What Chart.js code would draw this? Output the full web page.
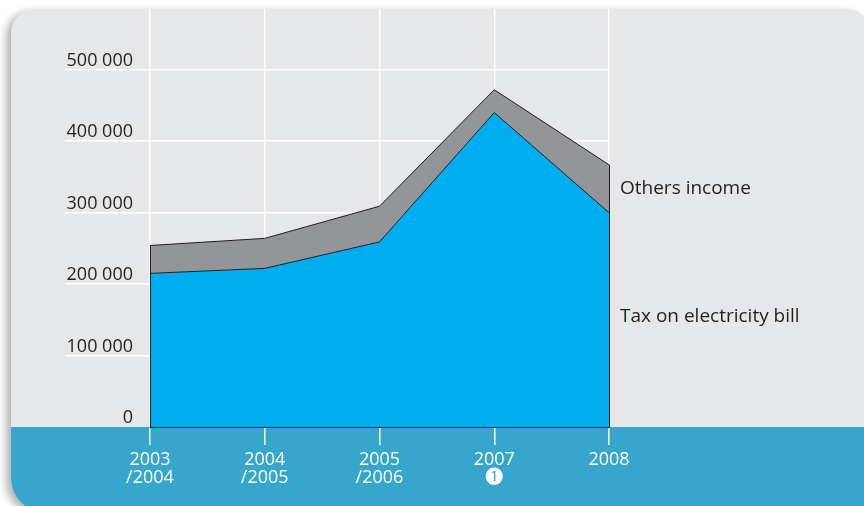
<!DOCTYPE html>
<html>
<head>
<meta charset="utf-8">
<script src="https://cdn.jsdelivr.net/npm/chart.js@4.4.1/dist/chart.umd.min.js"></script>
<style>
  html, body { margin: 0; padding: 0; background: #ffffff; }
  #wrap { width: 864px; height: 506px; }
</style>
</head>
<body>
<div id="wrap"><canvas id="incomeChart" width="864" height="506"></canvas></div>
<script>
// Categories (two-line labels) and stacked series
const years = [["2003", "/2004"], ["2004", "/2005"], ["2005", "/2006"], ["2007", "\u2776"], ["2008"]];
const taxOnBill = [215000, 222000, 259000, 440000, 300000];
const othersIncome = [39000, 42000, 50000, 32000, 67000];
const seriesNames = ["Tax on electricity bill", "Others income"];
const yTicks = [0, 100000, 200000, 300000, 400000, 500000];
const yMax = 585000; // top of the panel, vertical gridlines run up to it

const FONT = "'Open Sans', 'Noto Sans CJK JP', 'DejaVu Sans', sans-serif";
const INK = "#231f20";

function spaced(v) {
  return String(v).replace(/\B(?=(\d{3})+(?!\d))/g, " ");
}

// grey panel with a soft shadow and the blue band under the x axis
const panelPlugin = {
  id: "panel",
  beforeDraw(chart) {
    const ctx = chart.ctx;
    const area = chart.chartArea;
    const x0 = 11, y0 = 9, w = 860, h = 502;
    const radii = [24, 24, 0, 32];
    ctx.save();
    ctx.shadowColor = "rgba(0,0,0,0.30)";
    ctx.shadowBlur = 9;
    ctx.shadowOffsetX = -5;
    ctx.shadowOffsetY = 3;
    ctx.fillStyle = "#e6e7e8";
    ctx.beginPath();
    ctx.roundRect(x0, y0, w, h, radii);
    ctx.fill();
    ctx.restore();

    ctx.save();
    ctx.beginPath();
    ctx.roundRect(x0, y0, w, h, radii);
    ctx.clip();
    ctx.fillStyle = "#36a6cc";
    ctx.fillRect(x0, area.bottom, w, h);
    ctx.restore();
  },
  afterDatasetsDraw(chart) {
    // close the stacked area on both ends
    const ctx = chart.ctx;
    const xs = chart.scales.x, ys = chart.scales.y;
    const last = years.length - 1;
    ctx.save();
    ctx.strokeStyle = INK;
    ctx.lineWidth = 1;
    [0, last].forEach(function (i) {
      const px = Math.round(xs.getPixelForValue(i)) + 0.5;
      ctx.beginPath();
      ctx.moveTo(px, ys.getPixelForValue(0));
      ctx.lineTo(px, ys.getPixelForValue(taxOnBill[i] + othersIncome[i]));
      ctx.stroke();
    });
    // series names next to the last point
    const xr = xs.getPixelForValue(last) + 11;
    ctx.fillStyle = INK;
    ctx.font = "19px " + FONT;
    ctx.textAlign = "left";
    ctx.textBaseline = "middle";
    const yTop = ys.getPixelForValue(taxOnBill[last] + othersIncome[last]);
    const yMid = ys.getPixelForValue(taxOnBill[last]);
    const yZero = ys.getPixelForValue(0);
    ctx.fillText(seriesNames[1], xr, (yTop + yMid) / 2);
    ctx.fillText(seriesNames[0], xr, (yMid + yZero) / 2 - 3);
    ctx.restore();
  }
};

const ctx = document.getElementById("incomeChart").getContext("2d");
new Chart(ctx, {
  type: "line",
  data: {
    labels: years,
    datasets: [
      {
        label: seriesNames[0],
        data: taxOnBill,
        backgroundColor: "#00adee",
        borderColor: INK,
        borderWidth: 1,
        pointRadius: 0,
        tension: 0,
        fill: "origin",
      },
      {
        label: seriesNames[1],
        data: othersIncome,
        backgroundColor: "#939598",
        borderColor: INK,
        borderWidth: 1,
        pointRadius: 0,
        tension: 0,
        fill: "-1",
      },
    ],
  },
  options: {
    responsive: false,
    animation: false,
    devicePixelRatio: 1,
    layout: { padding: { top: 9, right: 255, left: 0, bottom: 0 } },
    plugins: {
      legend: { display: false },
      tooltip: { enabled: false },
    },
    scales: {
      x: {
        offset: false,
        afterFit: function (scale) { scale.height = 79; },
        grid: {
          color: "#ffffff",
          lineWidth: 1.5,
          tickLength: 18,
        },
        border: { display: true, color: INK, width: 1 },
        ticks: {
          color: "#ffffff",
          padding: 6,
          maxRotation: 0,
          autoSkip: false,
          font: { family: FONT, size: 18, lineHeight: 1 },
        },
      },
      y: {
        stacked: true,
        min: 0,
        max: yMax,
        afterFit: function (scale) { scale.width = 150; },
        afterBuildTicks: function (scale) {
          scale.ticks = yTicks.map(function (v) { return { value: v }; });
        },
        grid: {
          color: function (c) {
            return c.tick && c.tick.value === 0 ? "rgba(0,0,0,0)" : "#ffffff";
          },
          lineWidth: 1.5,
          tickLength: 85,
        },
        border: { display: false },
        ticks: {
          autoSkip: false,
          color: INK,
          padding: -68,
          labelOffset: -9,
          font: { family: FONT, size: 18 },
          callback: function (value) {
            return spaced(value);
          },
        },
      },
    },
  },
  plugins: [panelPlugin],
});
</script>
</body>
</html>
